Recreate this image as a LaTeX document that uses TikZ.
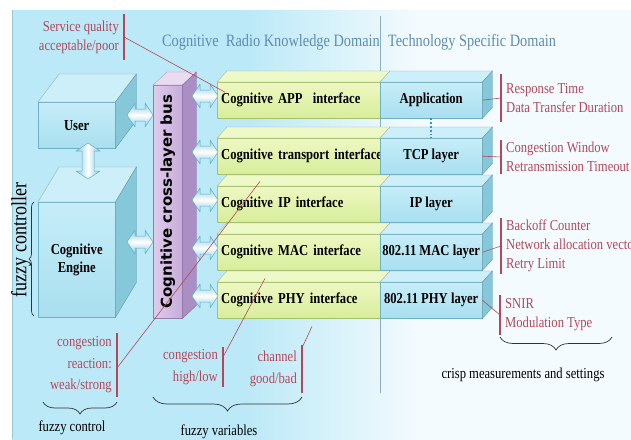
\documentclass[tikz,border=0pt]{standalone}
\usepackage{fontspec}
\setmainfont[FakeStretch=0.83]{Liberation Serif}
\newfontfamily\busfont{DejaVu Sans}
\usetikzlibrary{decorations.pathreplacing}

\definecolor{paneldeep}{HTML}{BCE9F7}
\definecolor{panelpale}{HTML}{F4FBFE}
\definecolor{domaintext}{HTML}{5F8CB0}
\definecolor{divider}{HTML}{8DAEC0}
\definecolor{notered}{HTML}{B4485A}
\definecolor{cubefront}{HTML}{C6EDF8}
\definecolor{cubelow}{HTML}{A9DFEF}
\definecolor{cubetop}{HTML}{CDEFF9}
\definecolor{cubeside}{HTML}{85C8DA}
\definecolor{cubeedge}{HTML}{6CB1C6}
\definecolor{ifacefront}{HTML}{EDF8C2}
\definecolor{ifacelow}{HTML}{D8ED9A}
\definecolor{ifacetop}{HTML}{EEF9C8}
\definecolor{ifaceedge}{HTML}{A6C16A}
\definecolor{busfront}{HTML}{DFCCEC}
\definecolor{busback}{HTML}{C6ACDA}
\definecolor{bustop}{HTML}{E9DCF2}
\definecolor{busside}{HTML}{AA8EC4}
\definecolor{busedge}{HTML}{967CB0}
\definecolor{arrowcyan}{HTML}{86CCE2}
\definecolor{arrowedge}{HTML}{62AEC6}
\definecolor{linkdots}{HTML}{2A98D4}

% light cyan on the left, fading to white on the right
\pgfdeclarehorizontalshading{panelfade}{100bp}{color(0bp)=(paneldeep); color(25bp)=(paneldeep); color(44bp)=(paneldeep); color(58bp)=(panelpale); color(75bp)=(panelpale); color(100bp)=(panelpale)}

% top and right faces of a box, hung on the front node
\newcommand\topface[4]{%
  \filldraw[fill=#4, draw=#4!70!black, line width=0.3pt] (#1.north west) -- ([shift={(#2,#3)}]#1.north west)
    -- ([shift={(#2,#3)}]#1.north east) -- (#1.north east) -- cycle;}
\newcommand\sideface[4]{%
  \filldraw[fill=#4, draw=#4!70!black, line width=0.3pt] (#1.north east) -- ([shift={(#2,#3)}]#1.north east)
    -- ([shift={(#2,#3)}]#1.south east) -- (#1.south east) -- cycle;}
% two-headed block arrow: name, centre, half length, extra options
\newcommand\blockarrow[4]{%
  \coordinate (#1) at (#2);
  \draw[linkarrow, shift={(#1)}, #4] (-#3,0) -- (-#3+8,-12) -- (-#3+8,-6) -- (#3-8,-6) -- (#3-8,-12)
    -- (#3,0) -- (#3-8,12) -- (#3-8,6) -- (-#3+8,6) -- (-#3+8,12) -- cycle;}

\tikzset{
  front/.style={anchor=north west, inner sep=0pt, align=center,
    font=\fontsize{15.2}{18}\selectfont\bfseries},
  cubeface/.style={front, top color=cubefront, bottom color=cubelow, draw=cubeedge, line width=0.4pt},
  ifaceface/.style={front, top color=ifacefront, bottom color=ifacelow, draw=ifaceedge, line width=0.4pt,
    minimum width=163, minimum height=36, text width=155, inner xsep=4pt, align=left},
  layerface/.style={cubeface, minimum width=102, minimum height=36},
  busface/.style={front, left color=busfront, right color=busback, draw=busedge,
    minimum width=29, minimum height=233},
  linkarrow/.style={draw=arrowedge, line width=0.5pt, line join=round},
  sideways/.style={top color=arrowcyan, bottom color=arrowcyan, middle color=white},
  upright/.style={left color=arrowcyan, right color=arrowcyan, middle color=white, rotate=90},
  note/.style={text=notered, font=\fontsize{15.2}{19}\selectfont, inner xsep=5pt, inner ysep=2pt},
  notebar/.style={notered, line width=1.6pt},
  noteline/.style={notered, line width=0.6pt},
  domaintitle/.style={text=domaintext, font=\fontsize{17.3}{19}\selectfont},
  caption/.style={font=\fontsize{15.2}{18}\selectfont},
  underbrace/.style={decorate, decoration={brace, amplitude=#1}, line width=0.7pt, black!80},
}

\begin{document}
\begin{tikzpicture}[x=1pt,y=-1pt]
  \useasboundingbox (0,0) rectangle (631,439);
  \fill[white] (0,0) rectangle (631,439);
  \fill[shading=panelfade] (12,10) rectangle (631,439);
  \draw[cubeedge!70, line width=0.5pt] (12,10) -- (12,439);

  % domains
  \draw[divider, line width=0.6pt] (380,16) -- (380,393);
  \node[domaintitle] (crkd) at (271,42) {Cognitive\ \ Radio Knowledge Domain};
  \node[domaintitle] (tsd) at (472,42) {Technology Specific Domain};

  % user and engine
  \node[cubeface, minimum width=77, minimum height=46] (user) at (38,102) {User};
  \topface{user}{21}{-28}{cubetop}
  \sideface{user}{21}{-28}{cubeside}
  \node[cubeface, minimum width=77, minimum height=115] (engine) at (38,202) {Cognitive\\Engine};
  \topface{engine}{21}{-35}{cubetop}
  \sideface{engine}{21}{-35}{cubeside}
  \blockarrow{a-ue}{88,161}{18}{upright}

  % cross-layer bus
  \node[busface] (bus) at (153,85) {};
  \topface{bus}{14}{-13}{bustop}
  \sideface{bus}{14}{-13}{busside}
  \node[rotate=90, font={\busfont\fontsize{15}{17}\selectfont\bfseries}] (bus-text) at (bus.center)
    {Cognitive cross-layer bus};
  \blockarrow{a-user}{140,115}{13}{sideways}
  \blockarrow{a-engine}{140,242}{13}{sideways}

  % interface / layer rows
  \foreach \n/\yy/\ci/\tl in {app/82/{Cognitive APP\ \ interface}/Application,
      tcp/138/{Cognitive transport interface}/{TCP layer},
      ip/186/{Cognitive IP interface}/{IP layer},
      mac/234/{Cognitive MAC interface}/{802.11 MAC layer},
      phy/282/{Cognitive PHY interface}/{802.11 PHY layer}} {
    \node[ifaceface] (ci-\n) at (217,\yy) {\mbox{\ci}};
    \topface{ci-\n}{10}{-11}{ifacetop}
    \node[layerface] (l-\n) at (380,\yy) {\tl};
    \topface{l-\n}{10}{-11}{cubetop}
    \sideface{l-\n}{10}{-11}{cubeside}
    \blockarrow{a-\n}{205,\yy+14}{13}{sideways}
  }
  \draw[linkdots, line width=1.8pt, dotted] (l-app.south) -- (l-tcp.north);

  % crisp side
  \node[note, anchor=west, align=left, inner ysep=9pt] (n-app) at (501,98) {Response Time\\Data Transfer Duration};
  \node[note, anchor=west, align=left] (n-tcp) at (501,157) {Congestion Window\\Retransmission Timeout};
  \node[note, anchor=west, align=left] (n-mac) at (501,246) {Backoff Counter\\Network allocation vector\\Retry Limit};
  \node[note, anchor=west, align=left, inner ysep=4pt] (n-phy) at (500,315) {SNIR\\Modulation Type};
  \foreach \n in {app,tcp,mac,phy} {
    \draw[notebar] (n-\n.north west) -- (n-\n.south west);
    \draw[noteline] (l-\n.east) -- (n-\n.west);
  }
  \draw[underbrace=13] (612,337) -- (500,337);
  \node[caption] (crisp) at (523,375) {crisp measurements and settings};

  % fuzzy side
  \node[note, anchor=east, align=right, inner ysep=6pt] (n-qos) at (124,37) {Service quality\\acceptable/poor};
  \node[note, anchor=east, align=right, inner ysep=4pt, font=\fontsize{15.2}{21.5}\selectfont] (n-react) at (117,365)
    {congestion\\reaction:\\weak/strong};
  \node[note, anchor=east, align=right, font=\fontsize{15.2}{22}\selectfont] (n-cong) at (223,367) {congestion\\high/low};
  \node[note, anchor=east, align=right, inner ysep=6pt, font=\fontsize{15.2}{22}\selectfont] (n-chan) at (302,369) {channel\\good/bad};
  \foreach \n in {qos,react,cong,chan}
    \draw[notebar] (n-\n.north east) -- (n-\n.south east);

  \coordinate (qos-end) at ([shift={(8,-8)}]ci-app.west);
  \coordinate (react-end) at ([shift={(43,7)}]ci-tcp.south west);
  \coordinate (cong-end) at ([shift={(48,8)}]ci-mac.south west);
  \coordinate (chan-end) at ([shift={(95,8)}]ci-phy.south west);
  \draw[noteline] (n-qos.east) -- (qos-end);
  \draw[noteline] ([shift={(0,3)}]n-react.east) -- (react-end);
  \draw[noteline] ([shift={(0,-10)}]n-cong.east) -- (cong-end);
  \draw[noteline] ([shift={(0,3)}]n-chan.north east) -- (chan-end);

  \draw[underbrace=5] (34,316) -- (34,202);
  \node[caption, rotate=90, font=\fontsize{21.7}{24}\selectfont] (fc-label) at (21,240) {fuzzy controller};
  \draw[underbrace=12] (117,402) -- (43,402);
  \node[caption] (fctl) at (72,428) {fuzzy control};
  \draw[underbrace=14] (302,397) -- (153,397);
  \node[caption] (fvar) at (219,432) {fuzzy variables};
\end{tikzpicture}
\end{document}
